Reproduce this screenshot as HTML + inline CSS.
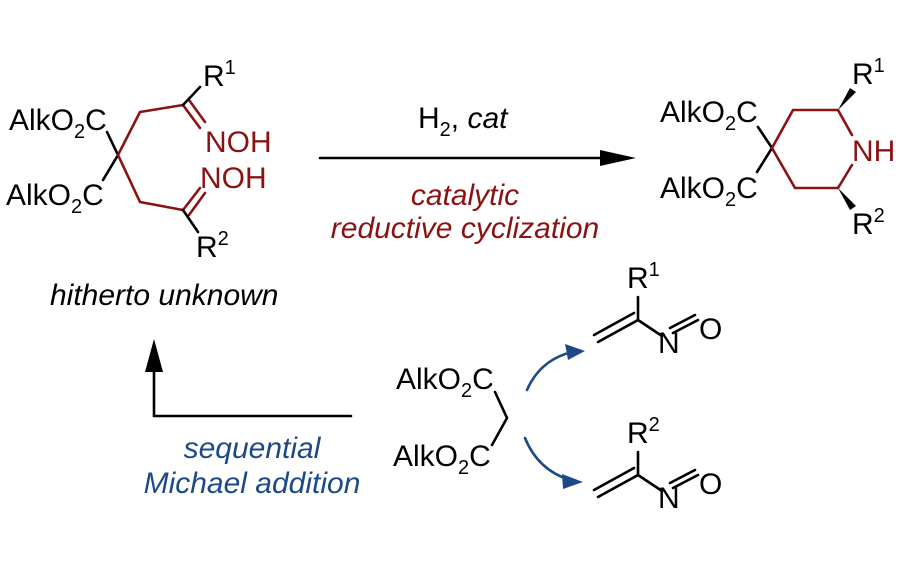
<!DOCTYPE html>
<html><head><meta charset="utf-8"><style>
body{margin:0;background:#fff}
svg{display:block}
text{font-family:"Liberation Sans",sans-serif;font-size:30px}
.i{font-style:italic;font-size:30px}
.s{font-size:20px}
</style></head><body>
<svg width="900" height="562" viewBox="0 0 900 562" xmlns="http://www.w3.org/2000/svg">
<g stroke-width="2.6" fill="none" stroke-linecap="round">
<path d="M107 132 L118 155 L103 180" stroke="#000"/>
<path d="M118 155 L140 112 L183 105 M118 155 L140 202 L183 210" stroke="#8b1212"/>
<path d="M183 105 L200 128 M189 100 L205 122 M183 210 L200 188 M189 215 L205 193" stroke="#8b1212"/>
<path d="M183 105 L200 87 M183 210 L198 232" stroke="#000"/>
<path d="M758 127 L772 148 L757 172" stroke="#000"/>
<path d="M772 148 L793 110 L838 110 L852 135 M852 165 L838 188 L795 188 L772 148" stroke="#8b1212"/>
<path d="M320 158 L605 158" stroke="#000"/>
<path d="M351 416 L154 416 L154 368" stroke="#000"/>
<path d="M495 392 L507 418 L492 445" stroke="#000"/>
<path d="M638 297 L638 320 L598 342 M634 313 L594 335 M638 320 L662 336 M673 333 L698 320 M670 328 L695 315" stroke="#000"/>
<path d="M638 452 L638 475 L598 497 M634 468 L594 490 M638 475 L662 491 M673 488 L698 475 M670 483 L695 470" stroke="#000"/>
<path d="M527 390 Q540 360 572 352" stroke="#1d4a87"/>
<path d="M525 438 Q538 470 570 480" stroke="#1d4a87"/>
</g>
<polygon points="838,110 850,88 856,92" fill="#000"/>
<polygon points="838,188 850,210 856,206" fill="#000"/>
<polygon points="600,150 636,158 600,166" fill="#000"/>
<polygon points="145,372 154,339 163,372" fill="#000"/>
<polygon points="565,344 585,351 568,360" fill="#1d4a87"/>
<polygon points="562,474 583,482 563,489" fill="#1d4a87"/>
<g fill="#000">
<text x="9" y="130">AlkO<tspan class="s" dy="8">2</tspan><tspan dy="-8">C</tspan></text>
<text x="6" y="205">AlkO<tspan class="s" dy="8">2</tspan><tspan dy="-8">C</tspan></text>
<text x="203" y="86">R<tspan class="s" dy="-12">1</tspan></text>
<text x="196" y="257">R<tspan class="s" dy="-12">2</tspan></text>
<text x="50" y="305" class="i">hitherto unknown</text>
<text x="418" y="128">H<tspan class="s" dy="8">2</tspan><tspan dy="-8">, </tspan><tspan font-style="italic">cat</tspan></text>
<text x="660" y="122">AlkO<tspan class="s" dy="8">2</tspan><tspan dy="-8">C</tspan></text>
<text x="660" y="198">AlkO<tspan class="s" dy="8">2</tspan><tspan dy="-8">C</tspan></text>
<text x="852" y="84">R<tspan class="s" dy="-12">1</tspan></text>
<text x="852" y="234">R<tspan class="s" dy="-12">2</tspan></text>
<text x="396" y="389">AlkO<tspan class="s" dy="8">2</tspan><tspan dy="-8">C</tspan></text>
<text x="393" y="466">AlkO<tspan class="s" dy="8">2</tspan><tspan dy="-8">C</tspan></text>
<text x="627" y="288">R<tspan class="s" dy="-12">1</tspan></text>
<text x="658" y="353">N</text><text x="699" y="339">O</text>
<text x="627" y="443">R<tspan class="s" dy="-12">2</tspan></text>
<text x="658" y="508">N</text><text x="699" y="494">O</text>
</g>
<g fill="#8b1212">
<text x="205" y="152">NOH</text>
<text x="200" y="188">NOH</text>
<text x="852" y="161">NH</text>
<text x="465" y="205" class="i" text-anchor="middle">catalytic</text>
<text x="465" y="238" class="i" text-anchor="middle">reductive cyclization</text>
</g>
<g fill="#1d4a87">
<text x="252" y="458" class="i" text-anchor="middle">sequential</text>
<text x="252" y="493" class="i" text-anchor="middle">Michael addition</text>
</g>
</svg>
</body></html>
